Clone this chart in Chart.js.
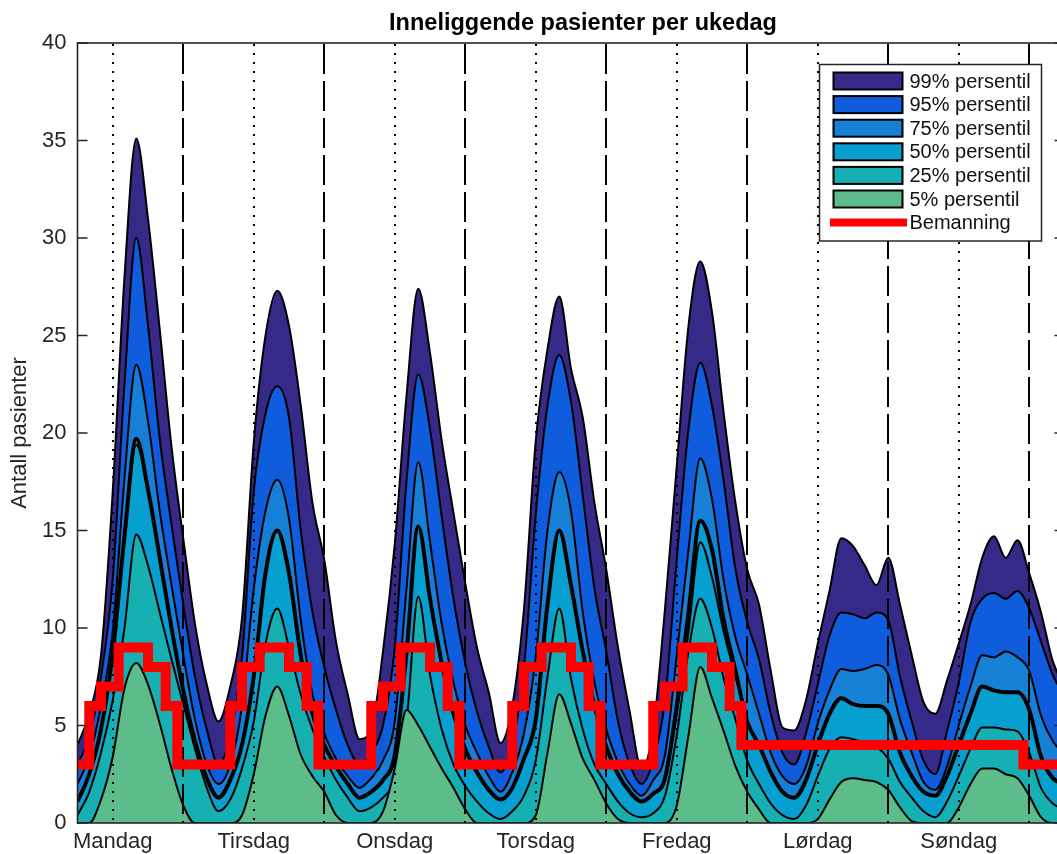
<!DOCTYPE html>
<html lang="no">
<head>
<meta charset="utf-8">
<title>Inneliggende pasienter per ukedag</title>
<script src="https://cdn.jsdelivr.net/npm/chart.js@4.4.1/dist/chart.umd.min.js"></script>
<style>
  html, body { margin: 0; padding: 0; background: #fff; overflow: hidden; }
  #wrap { width: 1100px; height: 854px; }
</style>
</head>
<body>
<div id="wrap"><canvas id="c" width="1100" height="854"></canvas></div>
<script>
// Time axis: hours counted from Monday 00:00, sampled every second hour
const timer = [6, 8, 10, 12, 14, 16, 18, 20, 22, 24, 26, 28, 30,
  32, 34, 36, 38, 40, 42, 44, 46, 48, 50, 52, 54,
  56, 58, 60, 62, 64, 66, 68, 70, 72, 74, 76, 78,
  80, 82, 84, 86, 88, 90, 92, 94, 96, 98, 100, 102,
  104, 106, 108, 110, 112, 114, 116, 118, 120, 122, 124, 126,
  128, 130, 132, 134, 136, 138, 140, 142, 144, 146, 148, 150,
  152, 154, 156, 158, 160, 162, 164, 166, 168, 170, 172, 174];

// Percentiles of inpatients present at each time
const p99 = [4.0, 5.6, 8.6, 17.0, 28.0, 35.1, 31.0, 25.3, 19.3, 14.6, 10.2, 7.1, 5.2,
  7.0, 10.5, 19.5, 25.0, 27.3, 25.5, 21.4, 16.4, 13.5, 9.3, 6.6, 4.3,
  4.8, 8.8, 14.3, 21.9, 27.4, 24.1, 19.6, 15.9, 12.3, 9.0, 6.7, 4.1,
  6.0, 11.0, 19.6, 24.3, 27.0, 23.3, 20.8, 16.4, 13.0, 9.0, 5.7, 2.8,
  4.8, 11.0, 18.3, 25.5, 28.8, 26.2, 21.0, 16.4, 13.0, 11.2, 7.8, 4.9,
  4.75, 6.3, 9.2, 11.9, 14.6, 14.2, 13.2, 12.2, 13.6, 11.2, 8.6, 6.2,
  5.6, 7.3, 9.2, 11.2, 13.6, 14.7, 13.6, 14.5, 12.8, 10.8, 8.3, 7.0];
const p95 = [3.0, 4.4, 7.5, 12.5, 22.5, 30.0, 25.5, 19.7, 15.3, 11.2, 7.5, 4.8, 3.0,
  4.5, 8.5, 17.0, 21.0, 22.4, 20.8, 15.0, 10.8, 8.0, 5.8, 4.0, 3.0,
  3.6, 5.0, 9.0, 17.5, 23.0, 20.2, 15.7, 11.5, 8.2, 5.7, 3.9, 2.6,
  4.0, 8.0, 15.8, 21.4, 24.0, 21.6, 16.8, 12.0, 8.8, 5.2, 3.0, 2.0,
  3.2, 6.3, 13.5, 20.2, 23.6, 21.4, 17.5, 13.0, 10.3, 8.4, 5.6, 3.6,
  3.0, 4.6, 7.1, 9.6, 10.8, 10.7, 10.5, 10.8, 10.4, 7.5, 5.2, 3.2,
  2.5, 4.7, 7.2, 10.3, 11.5, 11.8, 11.5, 11.9, 11.0, 9.3, 7.6, 6.5];
const p75 = [2.0, 3.4, 6.0, 9.8, 17.7, 23.5, 20.6, 16.0, 12.2, 8.6, 5.3, 3.0, 2.0,
  3.0, 6.0, 12.0, 16.0, 17.6, 15.6, 10.4, 6.6, 4.6, 3.3, 2.4, 1.8,
  2.3, 3.2, 5.2, 12.0, 18.5, 14.4, 10.2, 7.2, 5.0, 3.6, 2.4, 1.6,
  2.6, 4.6, 8.5, 15.0, 18.0, 16.0, 10.8, 7.2, 4.8, 3.1, 2.0, 1.4,
  2.2, 3.5, 8.6, 14.0, 18.7, 16.6, 12.4, 9.5, 7.6, 5.6, 3.6, 2.4,
  2.0, 2.9, 5.1, 6.8, 7.9, 7.8, 7.9, 8.1, 7.6, 5.3, 3.6, 2.1,
  1.7, 2.9, 5.0, 7.0, 8.6, 8.5, 8.8, 8.5, 7.8, 5.5, 4.2, 3.5];
const p50 = [1.1, 2.5, 4.8, 8.7, 14.7, 19.7, 17.1, 13.6, 10.0, 6.8, 4.2, 2.3, 1.3,
  2.2, 4.0, 7.5, 12.8, 15.0, 12.8, 8.6, 5.6, 4.0, 2.9, 2.0, 1.3,
  1.6, 2.2, 3.5, 8.7, 15.2, 11.5, 8.2, 5.6, 3.8, 2.6, 1.7, 1.2,
  1.8, 3.3, 5.3, 11.2, 15.0, 12.2, 8.8, 6.0, 3.9, 2.5, 1.6, 1.1,
  1.5, 2.3, 6.0, 10.8, 15.5, 14.0, 10.4, 7.8, 5.2, 4.0, 2.6, 1.6,
  1.3, 2.2, 4.0, 5.6, 6.4, 6.1, 6.0, 6.0, 5.6, 3.6, 2.4, 1.6,
  1.4, 2.4, 4.0, 5.6, 7.0, 6.8, 6.7, 6.7, 5.8, 3.4, 2.3, 2.0];
const p25 = [0.4, 1.6, 3.6, 6.3, 10.0, 14.8, 13.2, 10.8, 8.4, 6.1, 3.8, 1.8, 0.6,
  1.2, 2.8, 5.2, 9.2, 11.0, 9.0, 6.6, 4.8, 3.4, 2.2, 1.3, 0.6,
  0.8, 1.3, 2.2, 5.2, 11.6, 7.6, 4.8, 3.0, 1.9, 1.1, 0.5, 0.2,
  0.6, 1.4, 3.2, 7.5, 11.0, 7.4, 4.8, 3.0, 2.0, 1.1, 0.5, 0.3,
  0.5, 1.4, 4.5, 8.8, 11.5, 10.0, 7.4, 5.3, 3.2, 2.0, 1.0, 0.4,
  0.2, 0.9, 2.4, 3.8, 4.4, 4.3, 4.1, 3.9, 3.3, 2.1, 1.3, 0.6,
  0.3, 1.1, 2.4, 3.8, 4.9, 4.9, 4.8, 4.7, 3.6, 1.8, 1.0, 0.7];
const p5 = [0, 0, 1.2, 3.4, 6.9, 8.2, 7.1, 5.1, 2.8, 0.9, 0, 0, 0,
  0, 0.4, 2.5, 5.5, 7.0, 5.5, 3.5, 2.4, 1.6, 0.4, 0, 0,
  0, 0.6, 2.8, 5.8, 5.0, 3.9, 2.8, 1.8, 0.7, 0, 0, 0,
  0, 0, 0.4, 3.6, 6.6, 5.1, 3.3, 2.2, 1.0, 0.2, 0, 0,
  0, 0, 0.9, 4.5, 8.0, 6.4, 4.7, 2.9, 1.6, 0.7, 0, 0,
  0, 0, 0.2, 1.2, 2.1, 2.3, 2.2, 2.1, 1.7, 0.8, 0.1, 0,
  0, 0, 0.8, 2.0, 2.8, 2.8, 2.5, 2.3, 1.4, 0.3, 0, 0];
// Average occupancy, drawn as a plain black line on top of the bands
const snitt = [1.1, 2.5, 4.8, 8.7, 14.7, 19.4, 17.1, 13.6, 10.0, 6.8, 4.2, 2.3, 1.3,
  2.2, 4.0, 7.5, 12.8, 15.0, 12.8, 8.6, 5.6, 4.0, 2.9, 2.0, 1.3,
  1.6, 2.2, 3.5, 8.7, 15.2, 11.5, 8.2, 5.6, 3.8, 2.6, 1.7, 1.2,
  1.8, 3.3, 5.3, 11.2, 15.0, 12.2, 8.8, 6.0, 3.9, 2.5, 1.6, 1.1,
  1.5, 2.3, 5.6, 9.8, 14.4, 12.6, 9.8, 7.5, 5.2, 4.0, 2.6, 1.6,
  1.3, 2.2, 4.0, 5.6, 6.4, 6.1, 6.0, 6.0, 5.6, 3.6, 2.4, 1.6,
  1.4, 2.4, 4.0, 5.6, 7.0, 6.8, 6.7, 6.7, 5.8, 3.4, 2.3, 2.0];

// Staffing plan: hour of each change and the staffing from that hour on
const bemanningTid = [6, 8, 10, 13, 18, 21, 23, 32, 34, 37, 42, 45, 47,
  56, 58, 61, 66, 69, 71, 80, 82, 85, 90, 93, 95,
  104, 106, 109, 114, 117, 119, 167, 174];
const bemanning = [3, 6, 7, 9, 8, 6, 3, 6, 8, 9, 8, 6, 3,
  6, 7, 9, 8, 6, 3, 6, 8, 9, 8, 6, 3,
  6, 7, 9, 8, 6, 4, 3, 3];

// Day labels sit at noon; dashed lines mark midnight
const ukedager = ['Mandag', 'Tirsdag', 'Onsdag', 'Torsdag', 'Fredag', 'Lørdag', 'Søndag'];
const middag = [12, 36, 60, 84, 108, 132, 156];
const midnatt = [24, 48, 72, 96, 120, 144, 168];
const yTicks = [0, 5, 10, 15, 20, 25, 30, 35, 40];

const FONT = '"Liberation Sans", Arial, Helvetica, sans-serif';
const AXIS_COLOR = '#262626';

const band = (label, values, color, width) => ({
  label,
  data: timer.map((t, i) => ({ x: t, y: values[i] })),
  backgroundColor: color,
  borderColor: '#000',
  borderWidth: width,
  fill: 'origin',
  cubicInterpolationMode: 'monotone',
  pointRadius: 0,
  isBand: true
});

const datasets = [
  {
    label: 'Bemanning',
    data: bemanningTid.map((t, i) => ({ x: t, y: bemanning[i] })),
    borderColor: '#ff0000',
    backgroundColor: '#ff0000',
    borderWidth: 10,
    stepped: 'before',
    fill: false,
    pointRadius: 0,
    borderJoinStyle: 'miter',
    borderCapStyle: 'butt'
  },
  {
    label: 'Snitt',
    data: timer.map((t, i) => ({ x: t, y: snitt[i] })),
    borderColor: '#000',
    borderWidth: 2,
    fill: false,
    cubicInterpolationMode: 'monotone',
    pointRadius: 0
  },
  band('5% persentil', p5, '#5cbd8b', 2),
  band('25% persentil', p25, '#16b0b3', 2),
  band('50% persentil', p50, '#079fcf', 4),
  band('75% persentil', p75, '#1580d6', 2),
  band('95% persentil', p95, '#0f5cdd', 2),
  band('99% persentil', p99, '#352a87', 2)
];

// Reference lines, axis box, inward ticks, title and legend
const dekor = {
  id: 'dekor',
  beforeDatasetDraw(chart, args) {
    if (args.index !== 0) return;
    const { ctx, chartArea: a, scales: { x } } = chart;
    ctx.save();
    ctx.beginPath();
    ctx.rect(a.left, a.top, a.right - a.left, a.bottom - a.top);
    ctx.clip();
    ctx.strokeStyle = '#000';
    ctx.lineWidth = 2;
    ctx.setLineDash([2, 7]);
    for (const h of middag) {
      const px = Math.round(x.getPixelForValue(h));
      ctx.beginPath(); ctx.moveTo(px, a.top + 1); ctx.lineTo(px, a.bottom); ctx.stroke();
    }
    ctx.setLineDash([30, 7]);
    for (const h of midnatt) {
      const px = Math.round(x.getPixelForValue(h));
      ctx.beginPath(); ctx.moveTo(px, a.top + 1); ctx.lineTo(px, a.bottom); ctx.stroke();
    }
    ctx.restore();
  },
  afterDraw(chart) {
    const { ctx, chartArea: a, scales: { y } } = chart;
    ctx.save();
    // axis box
    ctx.strokeStyle = AXIS_COLOR;
    ctx.lineWidth = 1.6;
    ctx.strokeRect(a.left, a.top, a.right - a.left, a.bottom - a.top);
    // inward y ticks on both sides
    for (const v of yTicks) {
      const py = y.getPixelForValue(v);
      ctx.beginPath();
      ctx.moveTo(a.left, py); ctx.lineTo(a.left + 10, py);
      ctx.moveTo(a.right, py); ctx.lineTo(a.right - 10, py);
      ctx.stroke();
    }
    // title
    ctx.fillStyle = '#000';
    ctx.font = 'bold 23.5px ' + FONT;
    ctx.textAlign = 'center';
    ctx.textBaseline = 'alphabetic';
    ctx.fillText('Inneliggende pasienter per ukedag', (a.left + a.right) / 2 + 12, 30);

    // legend
    const lx = 819.5, ly = 64.5, lw = 222, lh = 176.5;
    ctx.fillStyle = '#fff';
    ctx.fillRect(lx, ly, lw, lh);
    ctx.strokeStyle = AXIS_COLOR;
    ctx.lineWidth = 1.5;
    ctx.strokeRect(lx, ly, lw, lh);
    const order = chart.data.datasets.filter(d => d.isBand).slice().reverse();
    order.push(chart.data.datasets[0]);
    ctx.font = '20px ' + FONT;
    ctx.textAlign = 'left';
    ctx.textBaseline = 'middle';
    order.forEach((d, i) => {
      const cy = 81 + i * 23.6;
      if (d.isBand) {
        ctx.fillStyle = d.backgroundColor;
        ctx.fillRect(833.5, cy - 8.5, 69, 17);
        ctx.strokeStyle = '#000';
        ctx.lineWidth = 2;
        ctx.strokeRect(833.5, cy - 8.5, 69, 17);
      } else {
        ctx.strokeStyle = d.borderColor;
        ctx.lineWidth = 8;
        ctx.beginPath(); ctx.moveTo(830, cy); ctx.lineTo(907, cy); ctx.stroke();
      }
      ctx.fillStyle = '#111';
      ctx.fillText(d.label, 909.5, cy + 1);
    });
    ctx.restore();
  }
};

new Chart(document.getElementById('c'), {
  type: 'line',
  data: { datasets },
  options: {
    responsive: false,
    animation: false,
    devicePixelRatio: 1,
    layout: { padding: { top: 43, left: 0, right: 35.5, bottom: 0 } },
    plugins: { legend: { display: false }, title: { display: false }, tooltip: { enabled: false } },
    scales: {
      x: {
        type: 'linear',
        min: 6,
        max: 174,
        afterBuildTicks: s => { s.ticks = middag.map(v => ({ value: v })); },
        afterFit: s => { s.height = 31; },
        grid: { display: false, drawTicks: false },
        border: { display: false },
        ticks: {
          autoSkip: false,
          maxRotation: 0,
          padding: 6,
          color: AXIS_COLOR,
          font: { family: FONT, size: 22 },
          callback: v => ukedager[middag.indexOf(v)]
        }
      },
      y: {
        min: 0,
        max: 40,
        afterBuildTicks: s => { s.ticks = yTicks.map(v => ({ value: v })); },
        afterFit: s => { s.width = 77.5; },
        grid: { display: false, drawTicks: false },
        border: { display: false },
        ticks: {
          padding: 11,
          color: AXIS_COLOR,
          font: { family: FONT, size: 22 }
        },
        title: {
          display: true,
          text: 'Antall pasienter',
          color: AXIS_COLOR,
          font: { family: FONT, size: 22 },
          padding: { top: 7, bottom: 0 }
        }
      }
    }
  },
  plugins: [dekor]
});
</script>
</body>
</html>
